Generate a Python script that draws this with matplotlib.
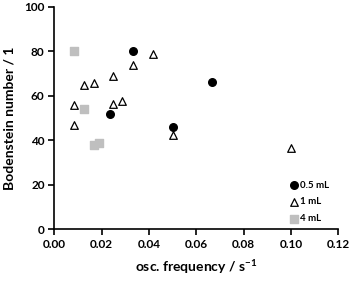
import matplotlib
matplotlib.use("Agg")
import matplotlib.pyplot as plt

plt.rcParams['font.family'] = ['Lato', 'DejaVu Sans']
plt.rcParams['mathtext.fontset'] = 'custom'
plt.rcParams['mathtext.rm'] = 'Lato'
plt.rcParams['mathtext.bf'] = 'Lato:bold'

x_05 = [0.0333, 0.0235, 0.050, 0.0667]
y_05 = [80.1, 51.8, 46.0, 66.0]
x_1 = [0.0083, 0.0083, 0.0125, 0.0167, 0.025, 0.025, 0.0285, 0.0333, 0.0417, 0.050, 0.100]
y_1 = [55.7, 47.0, 65.0, 65.7, 69.0, 56.4, 57.6, 74.0, 78.6, 42.4, 36.5]
x_4 = [0.0083, 0.0125, 0.0167, 0.019]
y_4 = [80.1, 53.9, 37.9, 38.6]
labels = ['0.5 mL', '1 mL', '4 mL']
xticks = [0.00, 0.02, 0.04, 0.06, 0.08, 0.10, 0.12]
yticks = [0, 20, 40, 60, 80, 100]

fig = plt.figure(figsize=(3.53, 2.81), dpi=100)
ax = fig.add_axes([54.3/353, 1-229.3/281, 284/353, 222.6/281])
ax.scatter(x_05, y_05, marker='o', s=30, color='black', label=labels[0], zorder=3)
ax.scatter(x_1, y_1, marker='^', s=30, facecolor='white', edgecolor='black', linewidth=0.9, label=labels[1], zorder=3)
ax.scatter(x_4, y_4, marker='s', s=26, color='#bfbfbf', label=labels[2], zorder=2)

ax.set_xlim(0, 0.12)
ax.set_ylim(0, 100)
ax.set_xticks(xticks)
ax.set_xticklabels([f"{v:.2f}" for v in xticks])
ax.set_yticks(yticks)
for s in ['top', 'right']:
    ax.spines[s].set_visible(False)
for s in ['left', 'bottom']:
    ax.spines[s].set_linewidth(1.2)
ax.tick_params(direction='out', length=4, width=1.2, labelsize=8.5, pad=3)
for t in ax.get_xticklabels() + ax.get_yticklabels():
    t.set_fontweight('bold')
ax.set_xlabel('osc. frequency / s$^{\\mathbf{-1}}$', fontsize=10, fontweight='bold', labelpad=5)
ax.set_ylabel('Bodenstein number / 1', fontsize=10, fontweight='bold', labelpad=6)

leg = ax.legend(loc='center left', bbox_to_anchor=(0.826, 0.123), frameon=False,
                handletextpad=0.1, handlelength=1.0, labelspacing=0.8, fontsize=7,
                borderaxespad=0.0, borderpad=0.0)
for t in leg.get_texts():
    t.set_fontweight('bold')

fig.savefig('out.png', dpi=100)
